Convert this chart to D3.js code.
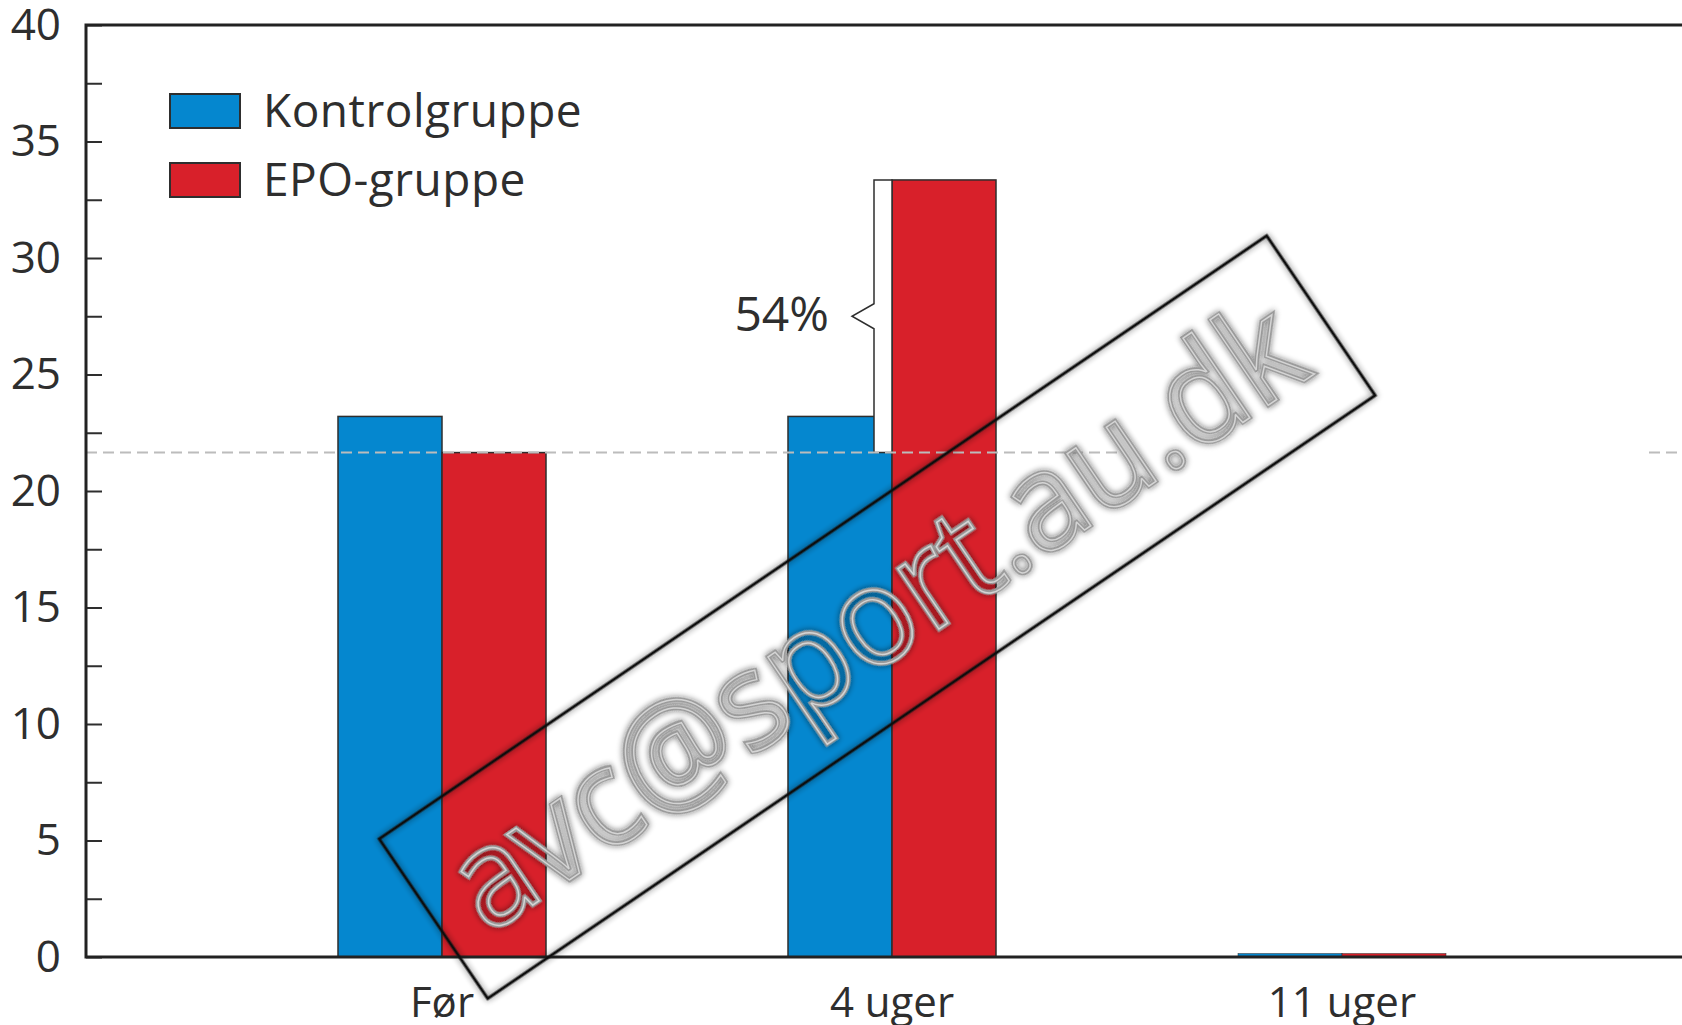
<!DOCTYPE html>
<meta charset="utf-8">
<style>
body { margin: 0; background: #fff; }
text { font-family: "Open Sans", "Noto Sans", sans-serif; fill: #2e2e2e; }
.axis path { display: none; }
.axis line { stroke: #2e2e2e; stroke-width: 2px; }
.bar { stroke: #2e2e2e; stroke-width: 1.5px; }
</style>
<svg></svg>
<script src="https://cdn.jsdelivr.net/npm/d3@7"></script>
<script>

var categories = ["Før", "4 uger", "11 uger"];
var series = ["Kontrolgruppe", "EPO-gruppe"];
var kontrol = [23.2, 23.2, 0.15];
var epo = [21.65, 33.35, 0.15];
var colors = ["#0587cf", "#d8202a"];
var increaseLabel = "54%";
var watermark = "avc@sport.au.dk";

var width = 1682,
    height = 1025;

var svg = d3.select("svg")
    .attr("width", width)
    .attr("height", height);

var margin = {left: 86, top: 25, bottom: 957};

var y = d3.scaleLinear()
    .domain([0, 40])
    .range([margin.bottom, margin.top]);

var x = d3.scaleBand()
    .domain(categories)
    .range([217, 1567]);

var groupW = 208;
var xs = d3.scaleBand()
    .domain(series)
    .range([0, groupW]);

function groupLeft(c) { return x(c) + (x.bandwidth() - groupW) / 2; }

// filters for the stamp
var defs = svg.append("defs");
var glow = defs.append("filter").attr("id", "glow")
    .attr("x", "-10%").attr("y", "-30%").attr("width", "120%").attr("height", "160%");
glow.append("feGaussianBlur").attr("in", "SourceAlpha").attr("stdDeviation", 3).attr("result", "b");
glow.append("feComponentTransfer").attr("in", "b").attr("result", "b2")
  .append("feFuncA").attr("type", "linear").attr("slope", 0.6);
var merge = glow.append("feMerge");
merge.append("feMergeNode").attr("in", "b2");
merge.append("feMergeNode").attr("in", "SourceGraphic");

// bars
var rows = categories.map(function(c, i) {
  return {cat: c, values: [kontrol[i], epo[i]]};
});

var groups = svg.append("g")
  .selectAll("g")
  .data(rows)
  .enter().append("g")
    .attr("transform", function(d) { return "translate(" + groupLeft(d.cat) + ",0)"; });

groups.selectAll("rect")
  .data(function(d) { return d.values.map(function(v, j) { return {s: series[j], v: v, j: j}; }); })
  .enter().append("rect")
    .attr("class", "bar")
    .attr("x", function(d) { return xs(d.s); })
    .attr("width", xs.bandwidth())
    .attr("y", function(d) { return y(d.v); })
    .attr("height", function(d) { return y(0) - y(d.v); })
    .attr("fill", function(d) { return colors[d.j]; })
    .style("stroke-width", function(d) { return d.v < 1 ? 0.5 : null; });

// bracket showing increase
var bx = groupLeft(categories[1]) + xs(series[1]);
var bTop = y(epo[1]), bBot = y(epo[0]), bMid = (bTop + bBot) / 2;
svg.append("path")
    .attr("d", "M" + bx + "," + bTop + "H" + (bx - 18) + "V" + (bMid - 12.5) +
               "L" + (bx - 40) + "," + bMid + "L" + (bx - 18) + "," + (bMid + 12.5) +
               "V" + bBot + "H" + bx + "Z")
    .attr("fill", "#fff")
    .attr("stroke", "#2e2e2e")
    .attr("stroke-width", 1.5);

svg.append("text")
    .attr("x", bx - 63)
    .attr("y", bMid + 15)
    .attr("text-anchor", "end")
    .style("font-size", "48px")
    .text(increaseLabel);

// reference dashed line at the EPO start level
var dashSegs = [[margin.left, 1118], [1649, width]];
svg.append("g").selectAll("line")
  .data(dashSegs)
  .enter().append("line")
    .attr("x1", function(d) { return d[0]; })
    .attr("x2", function(d) { return d[1]; })
    .attr("y1", y(epo[0]))
    .attr("y2", y(epo[0]))
    .attr("stroke", "#bcbcbc")
    .attr("stroke-width", 2)
    .attr("stroke-dasharray", "11,6");

// axes
var yAxis = svg.append("g")
    .attr("class", "axis")
    .attr("transform", "translate(" + margin.left + ",0)")
    .call(d3.axisLeft(y).tickValues(d3.range(0, 40.1, 2.5)).tickSize(-16).tickPadding(25)
      .tickFormat(function(d) { return d % 5 === 0 ? d : ""; }));
yAxis.selectAll("text").style("font-size", "44px").attr("fill", "#2e2e2e");

svg.append("path")
    .attr("d", "M" + width + "," + margin.top + "H" + margin.left + "V" + margin.bottom + "H" + width)
    .attr("fill", "none")
    .attr("stroke", "#222")
    .attr("stroke-width", 3);

svg.append("g").selectAll("text")
  .data(categories)
  .enter().append("text")
    .attr("x", function(d) { return x(d) + x.bandwidth() / 2; })
    .attr("y", 1017)
    .attr("text-anchor", "middle")
    .style("font-size", "42px")
    .text(function(d) { return d; });

// legend
var legend = svg.append("g").selectAll("g")
  .data(series)
  .enter().append("g")
    .attr("transform", function(d, i) { return "translate(170," + (94 + i * 69) + ")"; });

legend.append("rect")
    .attr("width", 70)
    .attr("height", 34)
    .attr("fill", function(d, i) { return colors[i]; })
    .attr("stroke", "#2e2e2e")
    .attr("stroke-width", 2);

legend.append("text")
    .attr("x", 93)
    .attr("y", 33)
    .style("font-size", "46px")
    .style("letter-spacing", "0.5px")
    .text(function(d) { return d; });

// stamp
var stamp = svg.append("g")
    .attr("transform", "translate(876.5,617) rotate(-34.2)");

stamp.append("rect")
    .attr("x", -536).attr("y", -96)
    .attr("width", 1073).attr("height", 193)
    .attr("fill", "none")
    .attr("stroke", "#111")
    .attr("stroke-width", 3)
    .attr("filter", "url(#glow)");

stamp.append("text")
    .attr("x", 0).attr("y", 45)
    .attr("text-anchor", "middle")
    .attr("textLength", 1000)
    .attr("lengthAdjust", "spacingAndGlyphs")
    .style("font-size", "136px")
    .style("fill", "none")
    .style("stroke", "#9a9a9a")
    .style("stroke-width", 5)
    .attr("filter", "url(#glow)")
    .text(watermark);

stamp.append("text")
    .attr("x", 0).attr("y", 45)
    .attr("text-anchor", "middle")
    .attr("textLength", 1000)
    .attr("lengthAdjust", "spacingAndGlyphs")
    .style("font-size", "136px")
    .style("fill", "none")
    .style("stroke", "#d4d4d4")
    .style("stroke-width", 1.5)
    .text(watermark);

</script>
